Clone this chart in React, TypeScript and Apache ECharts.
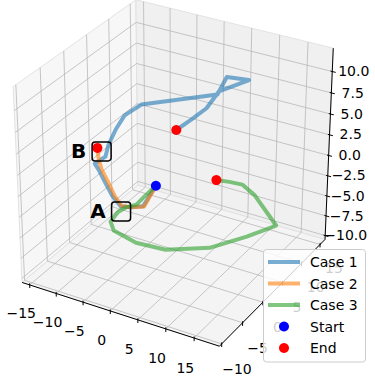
import React, { useEffect, useRef } from "react";
import * as echarts from "echarts";

// Axis pane limits (data units)
const X_LIMITS = [-16.45, 19.4];
const Y_LIMITS = [-10.54, 16.35];
const Z_LIMITS = [-10.5, 12.7];

const X_TICKS = [-15, -10, -5, 0, 5, 10, 15];
const Y_TICKS = [-10, -5, 0, 5, 10, 15];
const Z_TICKS = [-10, -7.5, -5, -2.5, 0, 2.5, 5, 7.5, 10];

const SERIES_NAMES = ["Case 1", "Case 2", "Case 3"];
const SERIES_COLORS = ["#1f77b4", "#ff7f0e", "#2ca02c"];

// trajectories: [x, y, z]
const CASE_1 = [
  [-5.0, 6.4, -4], [-5.4, 5.1, -5], [-6.1, 4.7, -6], [-8.4, 4.5, -6.5], [-9.9, 4.1, -6.5],
  [-10.8, 3.3, -5], [-11.9, 3.1, -3.5], [-12.3, 2.1, -1.5], [-12.4, 1.4, -0.5], [-10.7, 1.8, 0.5],
  [-10.1, 1.8, 2], [-8.9, 2.1, 4], [-7.9, 2.9, 5.5], [-6.0, 4.4, 6.5], [4.8, 8.3, 8],
  [6.0, 8.9, 10], [9.5, 9.5, 10], [5.2, 8.1, 8.5], [4.2, 6.5, 7], [2.6, 4.9, 6], [0.9, 3.7, 5],
];
const CASE_2 = [
  [-5.0, 6.4, -4], [-5.3, 5.1, -5], [-5.9, 4.7, -6], [-8.2, 4.6, -6.5], [-9.7, 4.2, -6.5],
  [-10.4, 3.4, -5], [-11.5, 3.3, -3.5], [-11.9, 2.3, -1.5], [-12.0, 1.8, 0], [-12.6, 2.3, 1],
];
const CASE_3 = [
  [-5.0, 6.4, -4], [-6.2, 5.5, -5], [-7.3, 4.6, -6], [-9.0, 4.2, -6.5], [-10.0, 3.6, -7],
  [-10.8, 2.8, -8], [-8.9, 1.2, -8], [-3.8, 0.1, -8], [1.4, 0.5, -8], [7.2, 3.5, -8],
  [10.7, 8.0, -8], [13.2, 12.1, -8], [12.7, 10.6, -6], [10.3, 10.4, -4], [8.8, 9.3, -2.5],
  [6.6, 9.1, -2.5], [4.5, 8.7, -2.5],
];
const START_POINTS = [[-5.0, 6.4, -4]];
const END_POINTS = [[0.9, 3.7, 5], [-12.6, 2.3, 1], [4.5, 8.7, -2.5]];
const MARK_LABELS = ["A", "B"];
const MARK_POINTS = [[-9.0, 3.1, -6.5], [-11.4, 1.8, 1]];

const LEGEND_ITEMS = ["Case 1", "Case 2", "Case 3", "Start", "End"];

const FONT = "DejaVu Sans";
const W = 375;
const H = 377;

// camera (matplotlib-like perspective)
const VIEW = { elev: 30, azim: -60, dist: 10, half: 0.55, sx: 2071, sy: 2030, cx: 176.1, cy: 166.5 };

function project(p: number[]): [number, number] {
  const e = (VIEW.elev * Math.PI) / 180;
  const a = (VIEW.azim * Math.PI) / 180;
  const w = [Math.cos(e) * Math.cos(a), Math.cos(e) * Math.sin(a), Math.sin(e)];
  const n = Math.hypot(w[0], w[1]);
  const u = [-w[1] / n, w[0] / n, 0];
  const v = [
    w[1] * u[2] - w[2] * u[1],
    w[2] * u[0] - w[0] * u[2],
    w[0] * u[1] - w[1] * u[0],
  ];
  const nz = (val: number, lim: number[]) => ((val - lim[0]) / (lim[1] - lim[0]) - 0.5) * 2 * VIEW.half;
  const q = [nz(p[0], X_LIMITS), nz(p[1], Y_LIMITS), nz(p[2], Z_LIMITS)];
  const uq = u[0] * q[0] + u[1] * q[1] + u[2] * q[2];
  const vq = v[0] * q[0] + v[1] * q[1] + v[2] * q[2];
  const wq = w[0] * q[0] + w[1] * q[1] + w[2] * q[2];
  const den = VIEW.dist - wq;
  return [VIEW.cx + (VIEW.sx * uq) / den, VIEW.cy - (VIEW.sy * vq) / den];
}

const fmtTick = (v: number, dec: number) => {
  const s = Math.abs(v).toFixed(dec);
  return v < 0 ? "\u2212" + s : s;
};

function buildFrame() {
  const [x0, x1] = X_LIMITS;
  const [y0, y1] = Y_LIMITS;
  const [z0, z1] = Z_LIMITS;
  const rx = x1 - x0, ry = y1 - y0, rz = z1 - z0;
  const panes = [
    { pts: [[x0, y0, z0], [x0, y1, z0], [x0, y1, z1], [x0, y0, z1]], fill: "#f7f7f7" },
    { pts: [[x0, y1, z0], [x1, y1, z0], [x1, y1, z1], [x0, y1, z1]], fill: "#f0f0f0" },
    { pts: [[x0, y0, z0], [x1, y0, z0], [x1, y1, z0], [x0, y1, z0]], fill: "#f4f4f4" },
  ];
  const segs: { pts: number[][]; color: string; width: number }[] = [];
  const grid = "#b8b8b8";
  X_TICKS.forEach((t) => {
    segs.push({ pts: [[t, y0, z0], [t, y1, z0], [t, y1, z1]], color: grid, width: 0.8 });
  });
  Y_TICKS.forEach((t) => {
    segs.push({ pts: [[x1, t, z0], [x0, t, z0], [x0, t, z1]], color: grid, width: 0.8 });
  });
  Z_TICKS.forEach((t) => {
    segs.push({ pts: [[x0, y0, t], [x0, y1, t], [x1, y1, t]], color: grid, width: 0.8 });
  });
  // axis lines
  segs.push({ pts: [[x0, y0, z0], [x1, y0, z0]], color: "#000", width: 1 });
  segs.push({ pts: [[x1, y0, z0], [x1, y1, z0]], color: "#000", width: 1 });
  segs.push({ pts: [[x1, y1, z0], [x1, y1, z1]], color: "#000", width: 1 });
  // tick marks
  X_TICKS.forEach((t) => segs.push({ pts: [[t, y0, z0 - rz / 60], [t, y0, z0 + rz / 120]], color: "#000", width: 1 }));
  Y_TICKS.forEach((t) => segs.push({ pts: [[x1, t, z0 - rz / 60], [x1, t, z0 + rz / 120]], color: "#000", width: 1 }));
  Z_TICKS.forEach((t) => segs.push({ pts: [[x1 - rx / 120, y1, t], [x1 + rx / 60, y1, t]], color: "#000", width: 1 }));
  const labels: { p: number[]; text: string }[] = [];
  X_TICKS.forEach((t) => labels.push({ p: [t, y0 - 0.075 * ry, z0 - 0.11 * rz], text: fmtTick(t, 0) }));
  Y_TICKS.forEach((t) => labels.push({ p: [x1 + 0.075 * rx, t, z0 - 0.108 * rz], text: fmtTick(t, 0) }));
  Z_TICKS.forEach((t) => labels.push({ p: [x1 + 0.08 * rx, y1 + 0.05 * ry, t], text: fmtTick(t, 1) }));
  return { panes, segs, labels };
}

export default function App() {
  const ref = useRef<HTMLDivElement>(null);
  useEffect(() => {
    if (!ref.current) return;
    const chart = echarts.init(ref.current, undefined, { renderer: "svg" });
    const { panes, segs, labels } = buildFrame();
    const cases = [CASE_1, CASE_2, CASE_3];

    const legendGraphic: any[] = [
      {
        type: "rect",
        shape: { x: 263.5, y: 249.5, width: 102, height: 112.5, r: 3 },
        style: { fill: "rgba(255,255,255,0.8)", stroke: "#cccccc", lineWidth: 1 },
        z: 100,
      },
    ];
    LEGEND_ITEMS.forEach((name, i) => {
      const y = 262 + i * 21.5;
      if (i < 3) {
        legendGraphic.push({
          type: "line",
          shape: { x1: 268, y1: y, x2: 300, y2: y },
          style: { stroke: SERIES_COLORS[i], lineWidth: 4, opacity: 0.6 },
          z: 101,
        });
      } else {
        legendGraphic.push({
          type: "circle",
          shape: { cx: 284, cy: y, r: 5 },
          style: { fill: i === 3 ? "#0000ff" : "#ff0000" },
          z: 101,
        });
      }
      legendGraphic.push({
        type: "text",
        x: 310,
        y: y,
        style: { text: name, fontSize: 14, fontFamily: FONT, fill: "#000", verticalAlign: "middle", align: "left" },
        z: 101,
      });
    });

    const option: any = {
      animation: false,
      grid: { left: 0, right: 0, top: 0, bottom: 0, containLabel: false },
      xAxis: { type: "value", min: 0, max: W, show: false },
      yAxis: { type: "value", min: 0, max: H, inverse: true, show: false },
      graphic: legendGraphic,
      series: [
        {
          type: "custom",
          name: "panes",
          coordinateSystem: "cartesian2d",
          silent: true,
          clip: false,
          z: 0,
          data: panes.map((_, i) => [i, 0]),
          renderItem: (params: any, api: any) => {
            const pn = panes[params.dataIndex];
            return {
              type: "polygon",
              shape: { points: pn.pts.map((p) => api.coord(project(p))) },
              style: { fill: pn.fill, stroke: "#e2e2e2", lineWidth: 1 },
            };
          },
        },
        {
          type: "custom",
          name: "frame",
          coordinateSystem: "cartesian2d",
          silent: true,
          clip: false,
          z: 1,
          data: segs.map((_, i) => [i, 0]),
          renderItem: (params: any, api: any) => {
            const s = segs[params.dataIndex];
            return {
              type: "polyline",
              shape: { points: s.pts.map((p) => api.coord(project(p))) },
              style: { stroke: s.color, lineWidth: s.width, fill: "none" },
            };
          },
        },
        {
          type: "custom",
          name: "ticklabels",
          coordinateSystem: "cartesian2d",
          silent: true,
          clip: false,
          z: 2,
          data: labels.map((_, i) => [i, 0]),
          renderItem: (params: any, api: any) => {
            const l = labels[params.dataIndex];
            const c = api.coord(project(l.p));
            return {
              type: "text",
              x: c[0],
              y: c[1],
              style: {
                text: l.text,
                fontSize: 14,
                fontFamily: FONT,
                fill: "#000",
                align: "center",
                verticalAlign: "middle",
              },
            };
          },
        },
        ...cases.map((c, i) => ({
          type: "line",
          name: SERIES_NAMES[i],
          data: c.map((p) => project(p)),
          symbol: "none",
          showSymbol: false,
          clip: false,
          z: 4,
          lineStyle: { color: SERIES_COLORS[i], width: 4, opacity: 0.6, join: "round", cap: "round" },
          itemStyle: { color: SERIES_COLORS[i] },
        })),
        {
          type: "scatter",
          name: "End",
          data: END_POINTS.map((p) => project(p)),
          symbolSize: 10,
          itemStyle: { color: "#ff0000", opacity: 1 },
          z: 5,
          clip: false,
        },
        {
          type: "scatter",
          name: "Start",
          data: START_POINTS.map((p) => project(p)),
          symbolSize: 10,
          itemStyle: { color: "#0000ff", opacity: 1 },
          z: 5,
          clip: false,
        },
        {
          type: "custom",
          name: "marks",
          coordinateSystem: "cartesian2d",
          silent: true,
          clip: false,
          z: 6,
          data: MARK_POINTS.map((_, i) => [i, 0]),
          renderItem: (params: any, api: any) => {
            const c = api.coord(project(MARK_POINTS[params.dataIndex]));
            return {
              type: "group",
              children: [
                {
                  type: "rect",
                  shape: { x: c[0] - 9.5, y: c[1] - 9.5, width: 19, height: 19, r: 3 },
                  style: { fill: "none", stroke: "#000", lineWidth: 1.5 },
                },
                {
                  type: "text",
                  x: c[0] - 23,
                  y: c[1],
                  style: {
                    text: MARK_LABELS[params.dataIndex],
                    fontSize: 20,
                    fontWeight: "bold",
                    fontFamily: FONT,
                    fill: "#000",
                    align: "center",
                    verticalAlign: "middle",
                  },
                },
              ],
            };
          },
        },
      ],
    };
    chart.setOption(option);
    return () => chart.dispose();
  }, []);
  return <div ref={ref} style={{ position: "absolute", left: 0, top: 0, width: W, height: H }} />;
}
